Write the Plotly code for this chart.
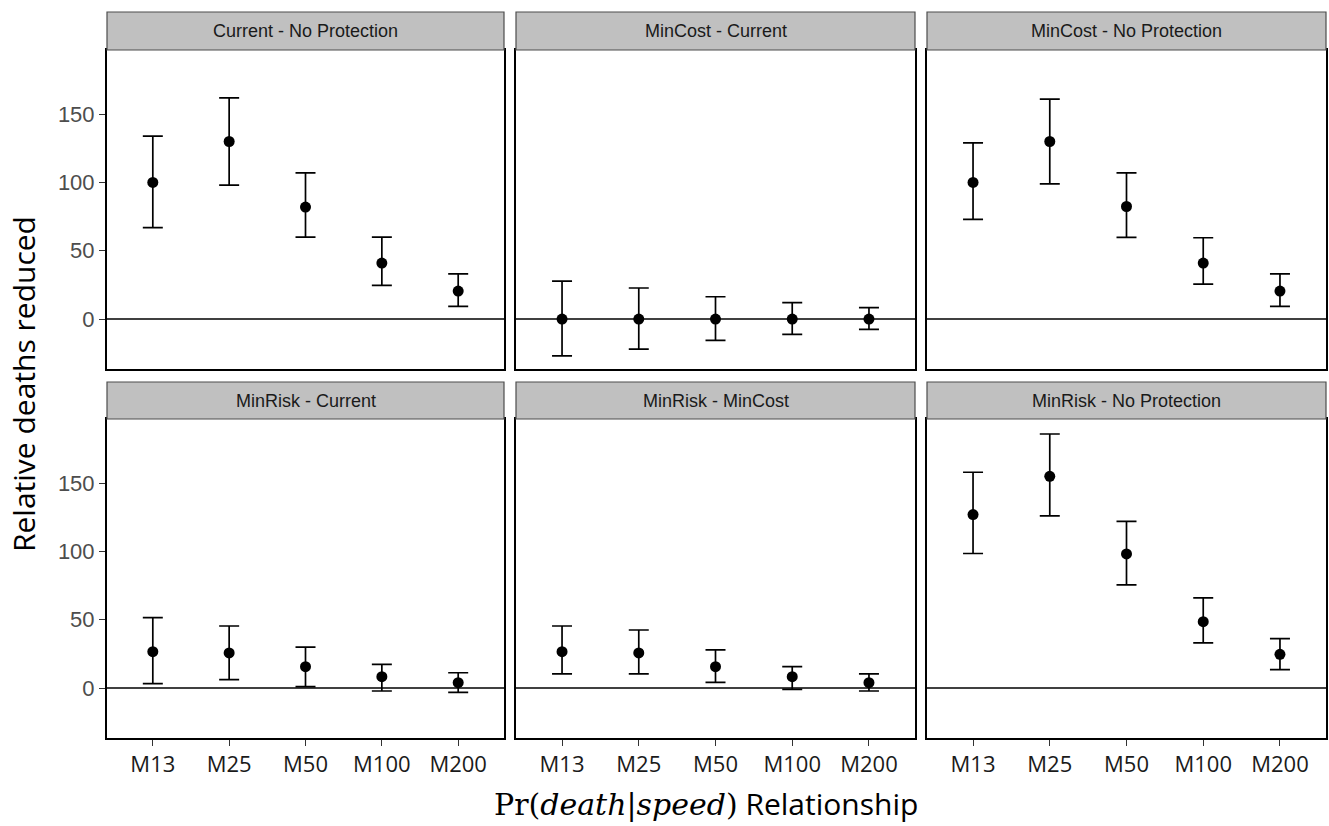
import plotly.graph_objects as go

# ---------------- data ----------------
categories = ["M13", "M25", "M50", "M100", "M200"]
panel_titles = ["Current - No Protection", "MinCost - Current", "MinCost - No Protection",
                "MinRisk - Current", "MinRisk - MinCost", "MinRisk - No Protection"]

est_current_noprot = [100, 130, 82, 41, 20.5]
lo_current_noprot = [67, 98, 60, 24.6, 9.3]
hi_current_noprot = [134, 162, 107, 60, 33]

est_mincost_current = [0, 0, 0, 0, 0]
lo_mincost_current = [-27, -22, -15.6, -11.2, -7.6]
hi_mincost_current = [27.8, 22.7, 16.3, 12, 8.3]

est_mincost_noprot = [100, 130, 82.4, 41, 20.5]
lo_mincost_noprot = [73, 99, 59.8, 25.6, 9.3]
hi_mincost_noprot = [129, 161, 107, 59.5, 33]

est_minrisk_current = [26.6, 25.7, 15.6, 8.3, 3.9]
lo_minrisk_current = [3.2, 6.1, 1.0, -2.2, -3.2]
hi_minrisk_current = [51.5, 45.4, 30, 17.3, 11.2]

est_minrisk_mincost = [26.6, 25.7, 15.6, 8.3, 3.9]
lo_minrisk_mincost = [10.3, 10.3, 4.2, -1.0, -2.2]
hi_minrisk_mincost = [45.4, 42.5, 27.9, 15.6, 10.3]

est_minrisk_noprot = [127, 155, 98.2, 48.6, 24.7]
lo_minrisk_noprot = [98.5, 126, 75.5, 33, 13.4]
hi_minrisk_noprot = [158, 186, 122, 66, 36.2]

y_ticks = [0, 50, 100, 150]

series = [
    (est_current_noprot, lo_current_noprot, hi_current_noprot),
    (est_mincost_current, lo_mincost_current, hi_mincost_current),
    (est_mincost_noprot, lo_mincost_noprot, hi_mincost_noprot),
    (est_minrisk_current, lo_minrisk_current, hi_minrisk_current),
    (est_minrisk_mincost, lo_minrisk_mincost, hi_minrisk_mincost),
    (est_minrisk_noprot, lo_minrisk_noprot, hi_minrisk_noprot),
]

# ---------------- layout geometry ----------------
W, H = 1329, 826
col_px = [(107, 504), (516, 915), (927, 1326)]
row_px = [(50, 369), (419, 738)]          # panel top/bottom (px from top)
strip_px = [(12, 50), (382, 419)]

def fx(p):
    return p / W

def fy(p):
    return 1 - p / H

fig = go.Figure()
layout = dict(width=W, height=H, margin=dict(l=0, r=0, t=0, b=0),
              paper_bgcolor="white", plot_bgcolor="white", showlegend=False)
shapes = []
annotations = []

for i, (est, lo, hi) in enumerate(series):
    r, c = divmod(i, 3)
    n = i + 1
    xa = "x" if n == 1 else f"x{n}"
    ya = "y" if n == 1 else f"y{n}"
    xkey = "xaxis" if n == 1 else f"xaxis{n}"
    ykey = "yaxis" if n == 1 else f"yaxis{n}"

    plus = [h - e for h, e in zip(hi, est)]
    minus = [e - l for e, l in zip(est, lo)]
    fig.add_trace(go.Scatter(
        x=categories, y=est, mode="markers", xaxis=xa, yaxis=ya,
        marker=dict(color="black", size=11),
        error_y=dict(type="data", symmetric=False, array=plus, arrayminus=minus,
                     color="black", thickness=1.7, width=10),
        cliponaxis=False,
    ))

    layout[xkey] = dict(
        domain=[fx(col_px[c][0]), fx(col_px[c][1])], anchor=ya,
        type="category", categoryorder="array", categoryarray=categories,
        range=[-0.6, 4.6], showgrid=False, zeroline=False,
        showline=True, linecolor="black", linewidth=2, mirror=True,
        ticks="outside" if r == 1 else "", ticklen=6, tickwidth=1.2, tickcolor="#333333",
        showticklabels=(r == 1),
        tickfont=dict(family="Open Sans", size=22, color="#1a1a1a"),
    )
    layout[ykey] = dict(
        domain=[fy(row_px[r][1]), fy(row_px[r][0])], anchor=xa,
        range=[-36.6, 197], showgrid=False, zeroline=False,
        showline=True, linecolor="black", linewidth=2, mirror=True,
        tickvals=y_ticks, ticks="outside" if c == 0 else "", ticklen=6,
        tickwidth=1.2, tickcolor="#333333",
        showticklabels=(c == 0),
        tickfont=dict(family="Liberation Sans", size=22, color="#4d4d4d"),
    )

    # zero reference line
    shapes.append(dict(type="line", xref=f"{xa} domain", yref=ya, x0=0, x1=1, y0=0, y1=0,
                       line=dict(color="black", width=1.3), layer="below"))
    # strip
    shapes.append(dict(type="rect", xref=f"{xa} domain", yref="paper",
                       x0=0, x1=1, y0=fy(strip_px[r][1]), y1=fy(strip_px[r][0]),
                       fillcolor="#c0c0c0", line=dict(color="#4d4d4d", width=1.2)))
    annotations.append(dict(text=panel_titles[i], xref=f"{xa} domain", yref="paper",
                            x=0.5, y=(fy(strip_px[r][0]) + fy(strip_px[r][1])) / 2,
                            showarrow=False, xanchor="center", yanchor="middle",
                            font=dict(family="Liberation Sans", size=18, color="#1a1a1a")))

annotations.append(dict(text="Relative deaths reduced", xref="paper", yref="paper",
                        x=fx(23), y=fy(384), textangle=-90, showarrow=False,
                        xanchor="center", yanchor="middle",
                        font=dict(family="Open Sans", size=30, color="black")))
annotations.append(dict(
    text="<span style=\"font-family:'DejaVu Serif'\">Pr(<i>death</i>|<i>speed</i>)</span> Relationship",
    xref="paper", yref="paper", x=fx(706), y=fy(803), showarrow=False,
    xanchor="center", yanchor="middle",
    font=dict(family="Open Sans", size=30, color="black")))

layout["shapes"] = shapes
layout["annotations"] = annotations
fig.update_layout(**layout)
fig.write_html("out.html",
               config={"displayModeBar": False},
               post_script="document.body.style.margin='0';document.body.style.overflow='hidden';")
